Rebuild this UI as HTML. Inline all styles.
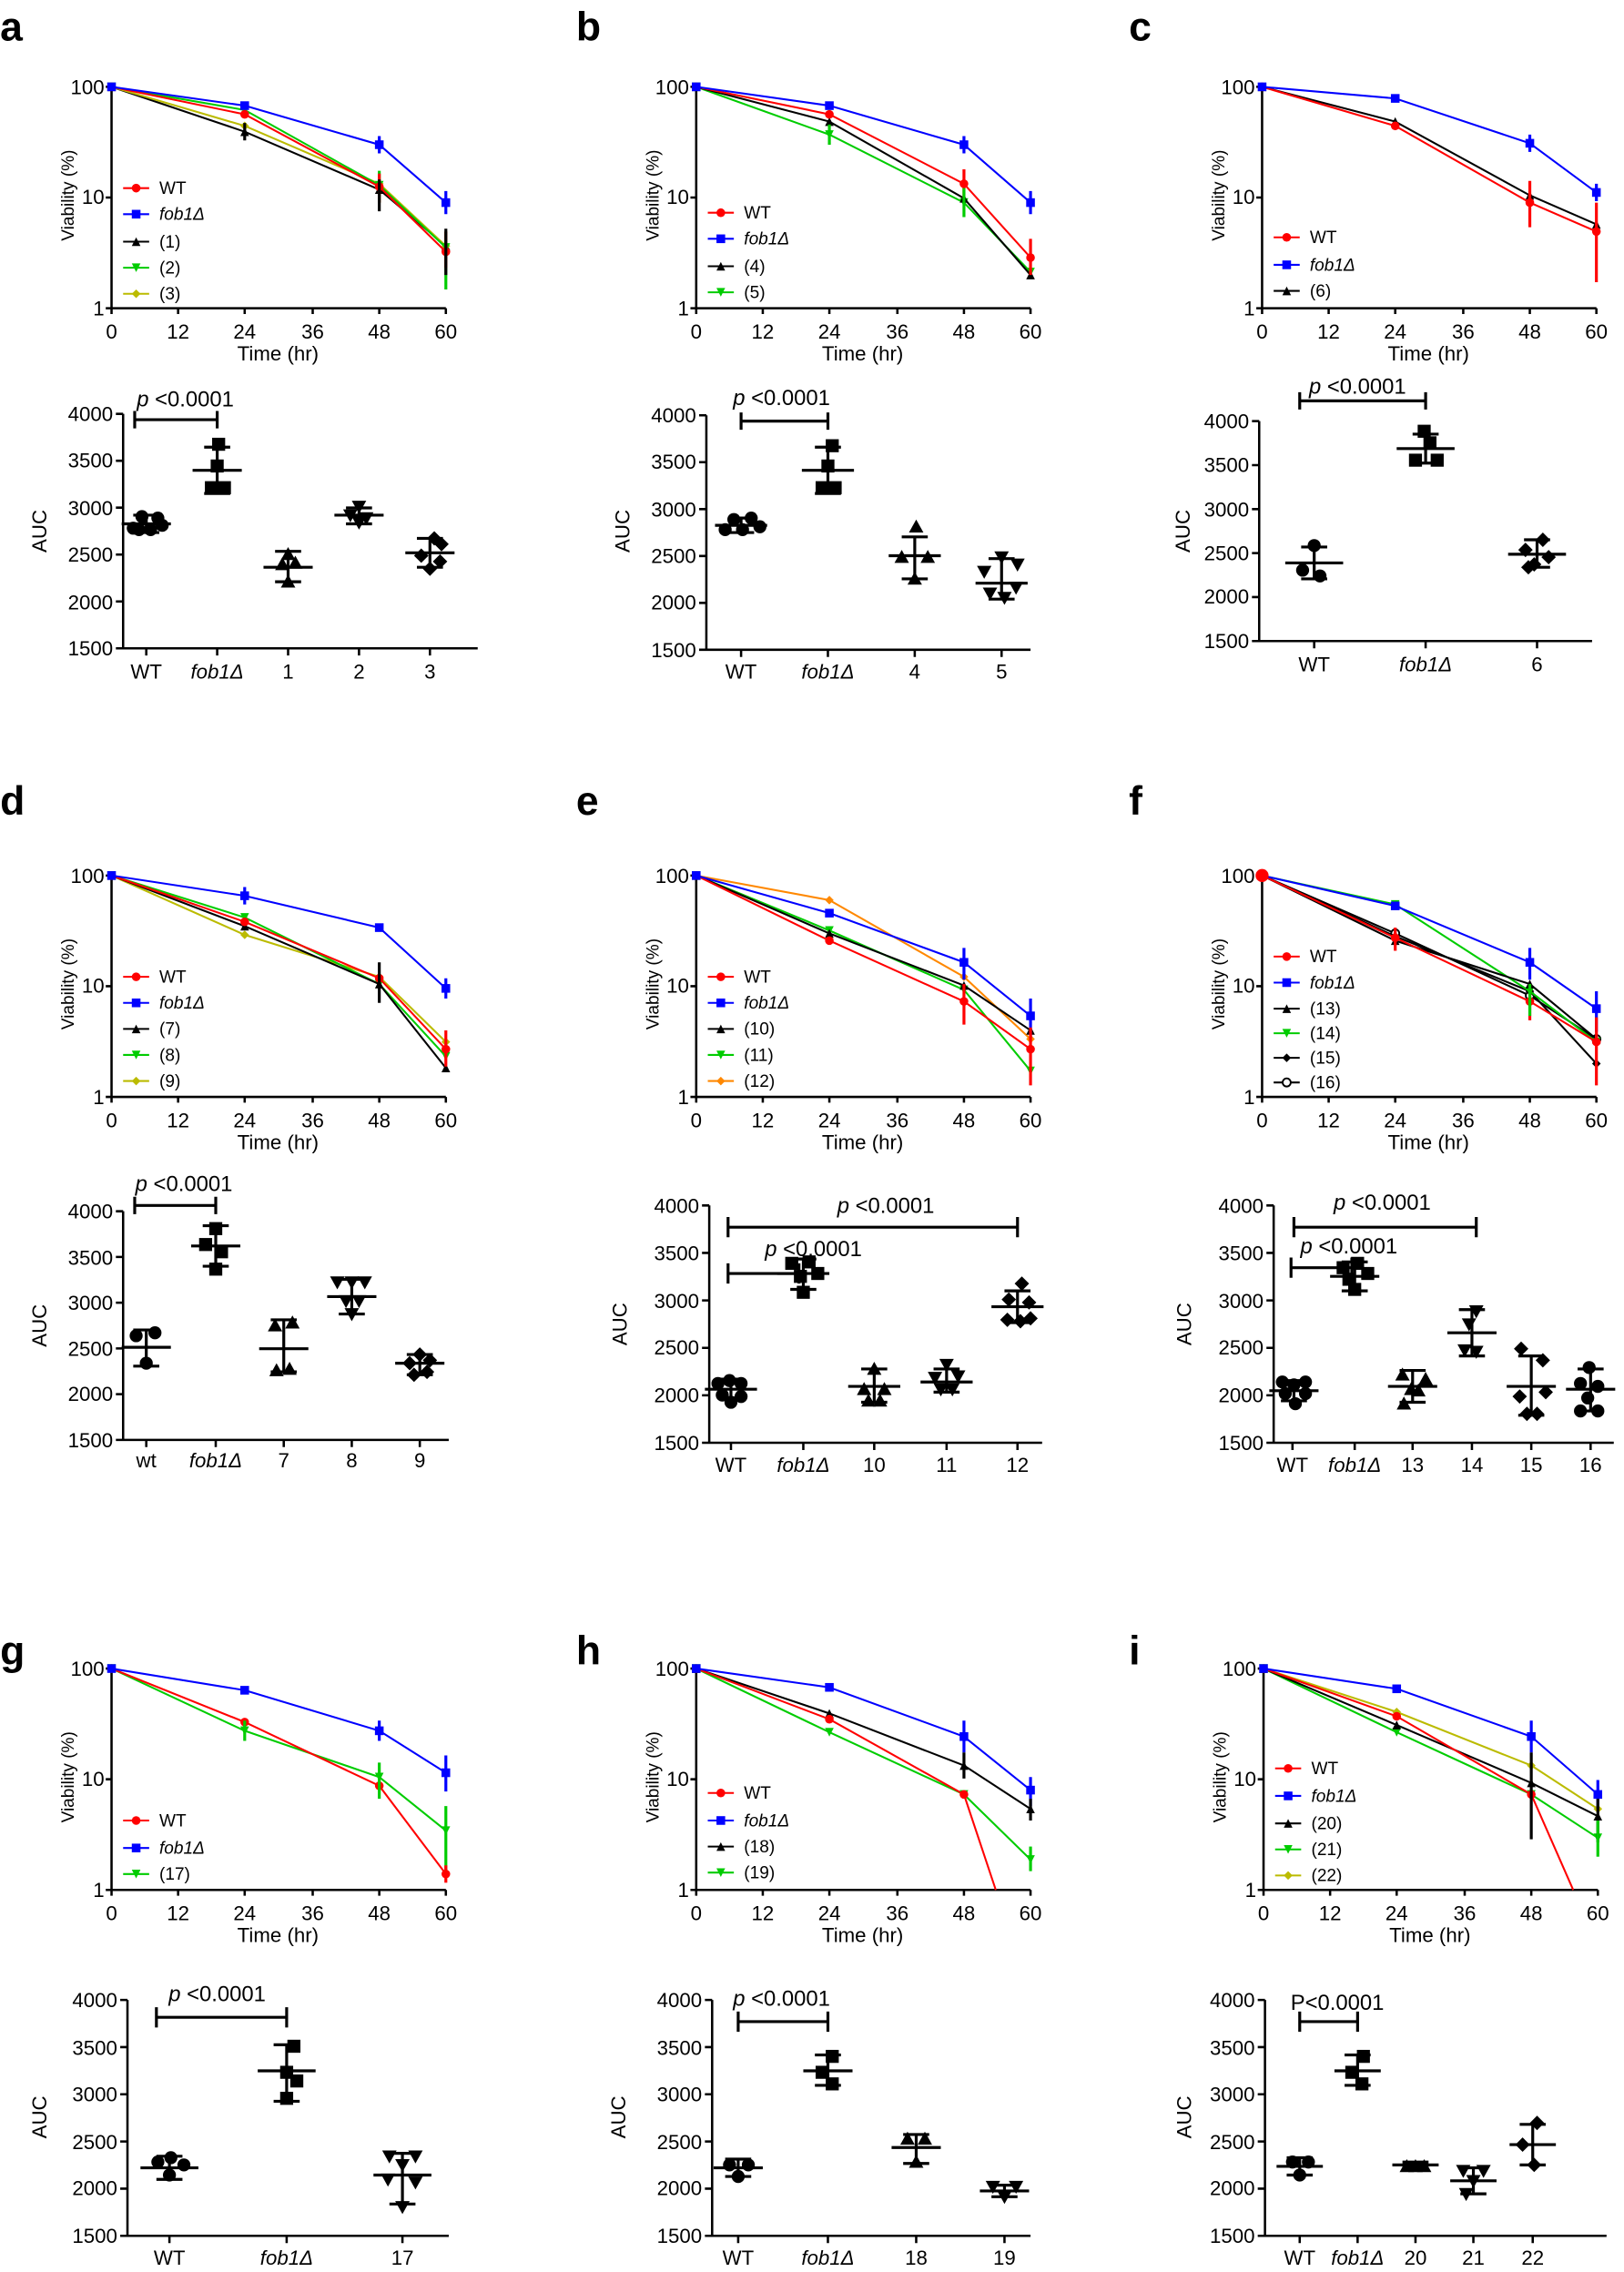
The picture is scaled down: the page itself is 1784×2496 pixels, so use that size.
<!DOCTYPE html>
<html><head><meta charset="utf-8"><style>
html,body{margin:0;padding:0;background:#fff}
svg{display:block}
text{font-family:"Liberation Sans",sans-serif;fill:#000}
.t{font-size:14px}
.tl{font-size:12px}
.pv{font-size:15px}
.pl{font-size:28px;font-weight:bold}
.ax{stroke:#000;stroke-width:1.6;fill:none}
.ln{fill:none;stroke-width:1.3}
.sd{stroke:#000;stroke-width:2;fill:none}
.i{font-style:italic}
</style></head><body>
<svg width="1784" height="2496" viewBox="0 0 1122 1570" xmlns="http://www.w3.org/2000/svg">
<defs>
<marker id="mr" markerWidth="8" markerHeight="8" refX="4" refY="4" markerUnits="userSpaceOnUse"><circle cx="4" cy="4" r="3" fill="#f00"/></marker>
<marker id="mb" markerWidth="8" markerHeight="8" refX="4" refY="4" markerUnits="userSpaceOnUse"><rect x="1" y="1" width="6" height="6" fill="#00f"/></marker>
<marker id="mk" markerWidth="8" markerHeight="8" refX="4" refY="4" markerUnits="userSpaceOnUse"><path d="M4 1L7 7H1Z" fill="#000"/></marker>
<marker id="mg" markerWidth="8" markerHeight="8" refX="4" refY="4" markerUnits="userSpaceOnUse"><path d="M1 1H7L4 7Z" fill="#0c0"/></marker>
<marker id="my" markerWidth="8" markerHeight="8" refX="4" refY="4" markerUnits="userSpaceOnUse"><path d="M4 1L7 4L4 7L1 4Z" fill="#bb0"/></marker>
<marker id="mo" markerWidth="8" markerHeight="8" refX="4" refY="4" markerUnits="userSpaceOnUse"><path d="M4 1L7 4L4 7L1 4Z" fill="#f80"/></marker>
<marker id="md" markerWidth="8" markerHeight="8" refX="4" refY="4" markerUnits="userSpaceOnUse"><path d="M4 1L7 4L4 7L1 4Z" fill="#000"/></marker>
<marker id="mc" markerWidth="8" markerHeight="8" refX="4" refY="4" markerUnits="userSpaceOnUse"><circle cx="4" cy="4" r="2.8" fill="#fff" stroke="#000" stroke-width="1.2"/></marker>
<g id="c"><circle r="4.5"/></g>
<g id="s"><rect x="-4.5" y="-4.5" width="9" height="9"/></g>
<g id="u"><path d="M0 -5L5 4H-5Z"/></g>
<g id="v"><path d="M-5 -4H5L0 5Z"/></g>
<g id="d"><path d="M0 -5L5 0L0 5L-5 0Z"/></g>
<g id="L">
<path class="ax" d="M77 60V213H308M73 60H77M73 136.5H77M73 213H77M77 213v4M123 213v4M169 213v4M216 213v4M262 213v4M308 213v4"/>
<text class="t" x="72" y="65" text-anchor="end">100</text>
<text class="t" x="72" y="141" text-anchor="end">10</text>
<text class="t" x="72" y="218" text-anchor="end">1</text>
<text class="t" x="77" y="234" text-anchor="middle">0</text>
<text class="t" x="123" y="234" text-anchor="middle">12</text>
<text class="t" x="169" y="234" text-anchor="middle">24</text>
<text class="t" x="216" y="234" text-anchor="middle">36</text>
<text class="t" x="262" y="234" text-anchor="middle">48</text>
<text class="t" x="308" y="234" text-anchor="middle">60</text>
<text class="t" x="192" y="249" text-anchor="middle">Time (hr)</text>
<text class="tl" transform="translate(51,135) rotate(-90)" text-anchor="middle">Viability (%)</text>
</g>
</defs>

<text class="pl" x="0" y="28">a</text><text class="pl" x="398" y="28">b</text><text class="pl" x="780" y="28">c</text>
<text class="pl" x="0" y="563">d</text><text class="pl" x="398" y="563">e</text><text class="pl" x="780" y="563">f</text>
<text class="pl" x="0" y="1150">g</text><text class="pl" x="398" y="1150">h</text><text class="pl" x="780" y="1150">i</text>

<!-- a -->
<g>
<use href="#L"/>
<polyline class="ln" stroke="#000" marker-start="url(#mk)" marker-mid="url(#mk)" marker-end="url(#mk)" points="77,60 169,91 262,131 308,170"/>
<polyline class="ln" stroke="#bb0" marker-start="url(#my)" marker-mid="url(#my)" marker-end="url(#my)" points="77,60 169,87 262,127 308,170"/>
<polyline class="ln" stroke="#0c0" marker-start="url(#mg)" marker-mid="url(#mg)" marker-end="url(#mg)" points="77,60 169,76 262,128 308,171"/>
<polyline class="ln" stroke="#f00" marker-start="url(#mr)" marker-mid="url(#mr)" marker-end="url(#mr)" points="77,60 169,79 262,129 308,174"/>
<polyline class="ln" stroke="#00f" marker-start="url(#mb)" marker-mid="url(#mb)" marker-end="url(#mb)" points="77,60 169,73 262,100 308,140"/>
<path stroke="#00f" stroke-width="2" d="M262 94V106M308 132V148"/>
<path stroke="#0c0" stroke-width="2" d="M262 118V140M308 160V200"/>
<path stroke="#f00" stroke-width="2" d="M262 120V140M308 160V185"/>
<path stroke="#000" stroke-width="2" d="M169 85V97M262 124V146M308 158V190"/>
<polyline class="ln" stroke="#f00" marker-mid="url(#mr)" points="85,130 94,130 103,130"/><text class="tl" x="110" y="134">WT</text>
<polyline class="ln" stroke="#00f" marker-mid="url(#mb)" points="85,148 94,148 103,148"/><text class="tl i" x="110" y="152">fob1Δ</text>
<polyline class="ln" stroke="#000" marker-mid="url(#mk)" points="85,167 94,167 103,167"/><text class="tl" x="110" y="171">(1)</text>
<polyline class="ln" stroke="#0c0" marker-mid="url(#mg)" points="85,185 94,185 103,185"/><text class="tl" x="110" y="189">(2)</text>
<polyline class="ln" stroke="#bb0" marker-mid="url(#my)" points="85,203 94,203 103,203"/><text class="tl" x="110" y="207">(3)</text>
</g>

<!-- b -->
<g transform="translate(404,0)">
<use href="#L"/>
<polyline class="ln" stroke="#0c0" marker-start="url(#mg)" marker-mid="url(#mg)" marker-end="url(#mg)" points="77,60 169,93 262,140 308,188"/>
<polyline class="ln" stroke="#000" marker-start="url(#mk)" marker-mid="url(#mk)" marker-end="url(#mk)" points="77,60 169,84 262,137 308,190"/>
<polyline class="ln" stroke="#f00" marker-start="url(#mr)" marker-mid="url(#mr)" marker-end="url(#mr)" points="77,60 169,79 262,127 308,178"/>
<polyline class="ln" stroke="#00f" marker-start="url(#mb)" marker-mid="url(#mb)" marker-end="url(#mb)" points="77,60 169,73 262,100 308,140"/>
<path stroke="#00f" stroke-width="2" d="M262 94V106M308 132V148"/>
<path stroke="#f00" stroke-width="2" d="M262 117V137M308 165V190"/>
<path stroke="#0c0" stroke-width="2" d="M262 130V150M169 86V100"/>
<polyline class="ln" stroke="#f00" marker-mid="url(#mr)" points="85,147 94,147 103,147"/><text class="tl" x="110" y="151">WT</text>
<polyline class="ln" stroke="#00f" marker-mid="url(#mb)" points="85,165 94,165 103,165"/><text class="tl i" x="110" y="169">fob1Δ</text>
<polyline class="ln" stroke="#000" marker-mid="url(#mk)" points="85,184 94,184 103,184"/><text class="tl" x="110" y="188">(4)</text>
<polyline class="ln" stroke="#0c0" marker-mid="url(#mg)" points="85,202 94,202 103,202"/><text class="tl" x="110" y="206">(5)</text>
</g>

<!-- c -->
<g transform="translate(795,0)">
<use href="#L"/>
<polyline class="ln" stroke="#000" marker-start="url(#mk)" marker-mid="url(#mk)" marker-end="url(#mk)" points="77,60 169,84 262,135 308,155"/>
<polyline class="ln" stroke="#f00" marker-start="url(#mr)" marker-mid="url(#mr)" marker-end="url(#mr)" points="77,60 169,87 262,140 308,160"/>
<polyline class="ln" stroke="#00f" marker-start="url(#mb)" marker-mid="url(#mb)" marker-end="url(#mb)" points="77,60 169,68 262,99 308,133"/>
<path stroke="#00f" stroke-width="2" d="M262 93V105M308 127V139"/>
<path stroke="#f00" stroke-width="2" d="M262 125V157M308 140V195"/>
<polyline class="ln" stroke="#f00" marker-mid="url(#mr)" points="85,164 94,164 103,164"/><text class="tl" x="110" y="168">WT</text>
<polyline class="ln" stroke="#00f" marker-mid="url(#mb)" points="85,183 94,183 103,183"/><text class="tl i" x="110" y="187">fob1Δ</text>
<polyline class="ln" stroke="#000" marker-mid="url(#mk)" points="85,201 94,201 103,201"/><text class="tl" x="110" y="205">(6)</text>
</g>

<!-- d -->
<g transform="translate(0,545)">
<use href="#L"/>
<polyline class="ln" stroke="#bb0" marker-start="url(#my)" marker-mid="url(#my)" marker-end="url(#my)" points="77,60 169,101 262,130 308,175"/>
<polyline class="ln" stroke="#0c0" marker-start="url(#mg)" marker-mid="url(#mg)" marker-end="url(#mg)" points="77,60 169,89 262,135 308,185"/>
<polyline class="ln" stroke="#000" marker-start="url(#mk)" marker-mid="url(#mk)" marker-end="url(#mk)" points="77,60 169,95 262,135 308,193"/>
<polyline class="ln" stroke="#f00" marker-start="url(#mr)" marker-mid="url(#mr)" marker-end="url(#mr)" points="77,60 169,92 262,131 308,180"/>
<polyline class="ln" stroke="#00f" marker-start="url(#mb)" marker-mid="url(#mb)" marker-end="url(#mb)" points="77,60 169,74 262,96 308,138"/>
<path stroke="#00f" stroke-width="2" d="M169 68V80M308 131V145"/>
<path stroke="#000" stroke-width="2" d="M262 120V148"/>
<path stroke="#f00" stroke-width="2" d="M308 167V192"/>
<polyline class="ln" stroke="#f00" marker-mid="url(#mr)" points="85,130 94,130 103,130"/><text class="tl" x="110" y="134">WT</text>
<polyline class="ln" stroke="#00f" marker-mid="url(#mb)" points="85,148 94,148 103,148"/><text class="tl i" x="110" y="152">fob1Δ</text>
<polyline class="ln" stroke="#000" marker-mid="url(#mk)" points="85,166 94,166 103,166"/><text class="tl" x="110" y="170">(7)</text>
<polyline class="ln" stroke="#0c0" marker-mid="url(#mg)" points="85,184 94,184 103,184"/><text class="tl" x="110" y="188">(8)</text>
<polyline class="ln" stroke="#bb0" marker-mid="url(#my)" points="85,202 94,202 103,202"/><text class="tl" x="110" y="206">(9)</text>
</g>

<!-- e -->
<g transform="translate(404,545)">
<use href="#L"/>
<polyline class="ln" stroke="#f80" marker-start="url(#mo)" marker-mid="url(#mo)" marker-end="url(#mo)" points="77,60 169,77 262,130 308,173"/>
<polyline class="ln" stroke="#0c0" marker-start="url(#mg)" marker-mid="url(#mg)" marker-end="url(#mg)" points="77,60 169,98 262,139 308,195"/>
<polyline class="ln" stroke="#000" marker-start="url(#mk)" marker-mid="url(#mk)" marker-end="url(#mk)" points="77,60 169,100 262,136 308,167"/>
<polyline class="ln" stroke="#f00" marker-start="url(#mr)" marker-mid="url(#mr)" marker-end="url(#mr)" points="77,60 169,105 262,147 308,180"/>
<polyline class="ln" stroke="#00f" marker-start="url(#mb)" marker-mid="url(#mb)" marker-end="url(#mb)" points="77,60 169,86 262,120 308,157"/>
<path stroke="#00f" stroke-width="2" d="M262 110V132M308 145V172"/>
<path stroke="#f00" stroke-width="2" d="M262 135V163M308 165V205"/>
<polyline class="ln" stroke="#f00" marker-mid="url(#mr)" points="85,130 94,130 103,130"/><text class="tl" x="110" y="134">WT</text>
<polyline class="ln" stroke="#00f" marker-mid="url(#mb)" points="85,148 94,148 103,148"/><text class="tl i" x="110" y="152">fob1Δ</text>
<polyline class="ln" stroke="#000" marker-mid="url(#mk)" points="85,166 94,166 103,166"/><text class="tl" x="110" y="170">(10)</text>
<polyline class="ln" stroke="#0c0" marker-mid="url(#mg)" points="85,184 94,184 103,184"/><text class="tl" x="110" y="188">(11)</text>
<polyline class="ln" stroke="#f80" marker-mid="url(#mo)" points="85,202 94,202 103,202"/><text class="tl" x="110" y="206">(12)</text>
</g>

<!-- f -->
<g transform="translate(795,545)">
<use href="#L"/>
<polyline class="ln" stroke="#000" marker-start="url(#mc)" marker-mid="url(#mc)" marker-end="url(#mc)" points="77,60 169,100 262,143 308,173"/>
<polyline class="ln" stroke="#000" marker-start="url(#md)" marker-mid="url(#md)" marker-end="url(#md)" points="77,60 169,102 262,140 308,190"/>
<polyline class="ln" stroke="#0c0" marker-start="url(#mg)" marker-mid="url(#mg)" marker-end="url(#mg)" points="77,60 169,80 262,140 308,175"/>
<polyline class="ln" stroke="#000" marker-start="url(#mk)" marker-mid="url(#mk)" marker-end="url(#mk)" points="77,60 169,105 262,135 308,173"/>
<polyline class="ln" stroke="#f00" marker-start="url(#mr)" marker-mid="url(#mr)" marker-end="url(#mr)" points="77,60 169,103 262,147 308,175"/>
<polyline class="ln" stroke="#00f" marker-start="url(#mb)" marker-mid="url(#mb)" marker-end="url(#mb)" points="77,60 169,81 262,120 308,152"/>
<circle cx="77" cy="60" r="4.5" fill="#f00"/>
<path stroke="#00f" stroke-width="2" d="M262 110V132M308 140V168"/>
<path stroke="#f00" stroke-width="2" d="M262 135V160M308 158V205M169 96V112"/>
<path stroke="#0c0" stroke-width="2" d="M262 135V157"/>
<polyline class="ln" stroke="#f00" marker-mid="url(#mr)" points="85,116 94,116 103,116"/><text class="tl" x="110" y="120">WT</text>
<polyline class="ln" stroke="#00f" marker-mid="url(#mb)" points="85,134 94,134 103,134"/><text class="tl i" x="110" y="138">fob1Δ</text>
<polyline class="ln" stroke="#000" marker-mid="url(#mk)" points="85,152 94,152 103,152"/><text class="tl" x="110" y="156">(13)</text>
<polyline class="ln" stroke="#0c0" marker-mid="url(#mg)" points="85,169 94,169 103,169"/><text class="tl" x="110" y="173">(14)</text>
<polyline class="ln" stroke="#000" marker-mid="url(#md)" points="85,186 94,186 103,186"/><text class="tl" x="110" y="190">(15)</text>
<polyline class="ln" stroke="#000" marker-mid="url(#mc)" points="85,203 94,203 103,203"/><text class="tl" x="110" y="207">(16)</text>
</g>

<!-- g -->
<g transform="translate(0,1093)">
<use href="#L"/>
<polyline class="ln" stroke="#0c0" marker-start="url(#mg)" marker-mid="url(#mg)" marker-end="url(#mg)" points="77,60 169,103 262,135 308,172"/>
<polyline class="ln" stroke="#f00" marker-start="url(#mr)" marker-mid="url(#mr)" marker-end="url(#mr)" points="77,60 169,97 262,141 308,202"/>
<polyline class="ln" stroke="#00f" marker-start="url(#mb)" marker-mid="url(#mb)" marker-end="url(#mb)" points="77,60 169,75 262,103 308,132"/>
<path stroke="#00f" stroke-width="2" d="M262 96V110M308 120V145"/>
<path stroke="#0c0" stroke-width="2" d="M262 125V150M308 155V200M169 96V110"/>
<path stroke="#f00" stroke-width="2" d="M308 196V208"/>
<polyline class="ln" stroke="#f00" marker-mid="url(#mr)" points="85,165 94,165 103,165"/><text class="tl" x="110" y="169">WT</text>
<polyline class="ln" stroke="#00f" marker-mid="url(#mb)" points="85,184 94,184 103,184"/><text class="tl i" x="110" y="188">fob1Δ</text>
<polyline class="ln" stroke="#0c0" marker-mid="url(#mg)" points="85,202 94,202 103,202"/><text class="tl" x="110" y="206">(17)</text>
</g>

<!-- h -->
<g transform="translate(404,1093)">
<use href="#L"/>
<polyline class="ln" stroke="#0c0" marker-start="url(#mg)" marker-mid="url(#mg)" marker-end="url(#mg)" points="77,60 169,104 262,147 308,192"/>
<polyline class="ln" stroke="#000" marker-start="url(#mk)" marker-mid="url(#mk)" marker-end="url(#mk)" points="77,60 169,91 262,127 308,157"/>
<polyline class="ln" stroke="#f00" marker-start="url(#mr)" marker-mid="url(#mr)" points="77,60 169,95 262,147 284,213"/>
<polyline class="ln" stroke="#00f" marker-start="url(#mb)" marker-mid="url(#mb)" marker-end="url(#mb)" points="77,60 169,73 262,107 308,144"/>
<path stroke="#00f" stroke-width="2" d="M262 96V118M308 135V155"/>
<path stroke="#000" stroke-width="2" d="M262 118V136M308 150V165"/>
<path stroke="#0c0" stroke-width="2" d="M308 183V200"/>
<polyline class="ln" stroke="#f00" marker-mid="url(#mr)" points="85,146 94,146 103,146"/><text class="tl" x="110" y="150">WT</text>
<polyline class="ln" stroke="#00f" marker-mid="url(#mb)" points="85,165 94,165 103,165"/><text class="tl i" x="110" y="169">fob1Δ</text>
<polyline class="ln" stroke="#000" marker-mid="url(#mk)" points="85,183 94,183 103,183"/><text class="tl" x="110" y="187">(18)</text>
<polyline class="ln" stroke="#0c0" marker-mid="url(#mg)" points="85,201 94,201 103,201"/><text class="tl" x="110" y="205">(19)</text>
</g>

<!-- i -->
<g transform="translate(796,1093)">
<use href="#L"/>
<polyline class="ln" stroke="#bb0" marker-start="url(#my)" marker-mid="url(#my)" marker-end="url(#my)" points="77,60 169,90 262,127 308,157"/>
<polyline class="ln" stroke="#0c0" marker-start="url(#mg)" marker-mid="url(#mg)" marker-end="url(#mg)" points="77,60 169,104 262,147 308,177"/>
<polyline class="ln" stroke="#000" marker-start="url(#mk)" marker-mid="url(#mk)" marker-end="url(#mk)" points="77,60 169,99 262,139 308,162"/>
<polyline class="ln" stroke="#f00" marker-start="url(#mr)" marker-mid="url(#mr)" points="77,60 169,93 262,147 291,213"/>
<polyline class="ln" stroke="#00f" marker-start="url(#mb)" marker-mid="url(#mb)" marker-end="url(#mb)" points="77,60 169,74 262,107 308,147"/>
<path stroke="#00f" stroke-width="2" d="M262 96V118M308 137V157"/>
<path stroke="#000" stroke-width="2" d="M262 118V178M308 150V180"/>
<path stroke="#0c0" stroke-width="2" d="M308 165V190"/>
<polyline class="ln" stroke="#f00" marker-mid="url(#mr)" points="85,129 94,129 103,129"/><text class="tl" x="110" y="133">WT</text>
<polyline class="ln" stroke="#00f" marker-mid="url(#mb)" points="85,148 94,148 103,148"/><text class="tl i" x="110" y="152">fob1Δ</text>
<polyline class="ln" stroke="#000" marker-mid="url(#mk)" points="85,167 94,167 103,167"/><text class="tl" x="110" y="171">(20)</text>
<polyline class="ln" stroke="#0c0" marker-mid="url(#mg)" points="85,185 94,185 103,185"/><text class="tl" x="110" y="189">(21)</text>
<polyline class="ln" stroke="#bb0" marker-mid="url(#my)" points="85,203 94,203 103,203"/><text class="tl" x="110" y="207">(22)</text>
</g>

<!-- ===== AUC a ===== -->
<g>
<path class="ax" d="M85 286V448H330M80 286H85M80 318.4H85M80 350.8H85M80 383.2H85M80 415.6H85M80 448H85M101 448v5M150 448v5M199 448v5M248 448v5M297 448v5"/>
<text class="t" x="78" y="291" text-anchor="end">4000</text><text class="t" x="78" y="323" text-anchor="end">3500</text><text class="t" x="78" y="356" text-anchor="end">3000</text><text class="t" x="78" y="388" text-anchor="end">2500</text><text class="t" x="78" y="421" text-anchor="end">2000</text><text class="t" x="78" y="453" text-anchor="end">1500</text>
<text class="t" transform="translate(32,367) rotate(-90)" text-anchor="middle">AUC</text>
<text class="t" x="101" y="469" text-anchor="middle">WT</text><text class="t i" x="150" y="469" text-anchor="middle">fob1Δ</text><text class="t" x="199" y="469" text-anchor="middle">1</text><text class="t" x="248" y="469" text-anchor="middle">2</text><text class="t" x="297" y="469" text-anchor="middle">3</text>
<path class="sd" d="M93 284V296M93 290H150M150 284V296"/>
<text class="pv" x="128" y="281" text-anchor="middle"><tspan class="i">p</tspan> &lt;0.0001</text>
<path class="sd" d="M84 362H118M101 356V368M92 356H110M92 368H110 M133 325H167M150 309V341M141 309H159M141 341H159 M182 392H216M199 381V402M190 381H208M190 402H208 M231 356H265M248 351V362M239 351H257M239 362H257 M280 382H314M297 372V392M288 372H306M288 392H306"/>
<use href="#c" x="92" y="365"/><use href="#c" x="98" y="357"/><use href="#c" x="104" y="366"/><use href="#c" x="109" y="358"/><use href="#c" x="112" y="363"/><use href="#c" x="96" y="366"/>
<use href="#s" x="151" y="307"/><use href="#s" x="150" y="322"/><use href="#s" x="146" y="337"/><use href="#s" x="155" y="337"/>
<use href="#u" x="199" y="383"/><use href="#u" x="204" y="389"/><use href="#u" x="199" y="402"/><use href="#u" x="195" y="390"/>
<use href="#v" x="248" y="350"/><use href="#v" x="242" y="356"/><use href="#v" x="253" y="358"/><use href="#v" x="248" y="361"/>
<use href="#d" x="300" y="372"/><use href="#d" x="291" y="384"/><use href="#d" x="305" y="376"/><use href="#d" x="297" y="393"/><use href="#d" x="304" y="388"/>
</g>

<!-- AUC b -->
<g>
<path class="ax" d="M488 287V449H712M483 287H488M483 319.4H488M483 351.8H488M483 384.2H488M483 416.6H488M483 449H488M512 449v5M572 449v5M632 449v5M692 449v5"/>
<text class="t" x="481" y="292" text-anchor="end">4000</text><text class="t" x="481" y="324" text-anchor="end">3500</text><text class="t" x="481" y="357" text-anchor="end">3000</text><text class="t" x="481" y="389" text-anchor="end">2500</text><text class="t" x="481" y="421" text-anchor="end">2000</text><text class="t" x="481" y="454" text-anchor="end">1500</text>
<text class="t" transform="translate(435,367) rotate(-90)" text-anchor="middle">AUC</text>
<text class="t" x="512" y="469" text-anchor="middle">WT</text><text class="t i" x="572" y="469" text-anchor="middle">fob1Δ</text><text class="t" x="632" y="469" text-anchor="middle">4</text><text class="t" x="692" y="469" text-anchor="middle">5</text>
<path class="sd" d="M512 285V297M512 291H572M572 285V297"/>
<text class="pv" x="540" y="280" text-anchor="middle"><tspan class="i">p</tspan> &lt;0.0001</text>
<path class="sd" d="M494 363H530M512 358V368M503 358H521M503 368H521 M554 325H590M572 309V341M563 309H581M563 341H581 M614 384H650M632 371V400M623 371H641M623 400H641 M674 403H710M692 386V414M683 386H701M683 414H701"/>
<use href="#c" x="501" y="366"/><use href="#c" x="507" y="359"/><use href="#c" x="513" y="366"/><use href="#c" x="519" y="358"/><use href="#c" x="525" y="364"/>
<use href="#s" x="575" y="308"/><use href="#s" x="572" y="322"/><use href="#s" x="568" y="337"/><use href="#s" x="577" y="337"/>
<use href="#u" x="633" y="364"/><use href="#u" x="623" y="385"/><use href="#u" x="641" y="385"/><use href="#u" x="632" y="400"/>
<use href="#v" x="680" y="395"/><use href="#v" x="692" y="385"/><use href="#v" x="703" y="390"/><use href="#v" x="684" y="410"/><use href="#v" x="694" y="413"/><use href="#v" x="702" y="406"/>
</g>

<!-- AUC c -->
<g>
<path class="ax" d="M870 291V443H1100M865 291H870M865 321.4H870M865 351.8H870M865 382.2H870M865 412.6H870M865 443H870M908 443v5M985 443v5M1062 443v5"/>
<text class="t" x="863" y="296" text-anchor="end">4000</text><text class="t" x="863" y="326" text-anchor="end">3500</text><text class="t" x="863" y="357" text-anchor="end">3000</text><text class="t" x="863" y="387" text-anchor="end">2500</text><text class="t" x="863" y="417" text-anchor="end">2000</text><text class="t" x="863" y="448" text-anchor="end">1500</text>
<text class="t" transform="translate(822,367) rotate(-90)" text-anchor="middle">AUC</text>
<text class="t" x="908" y="464" text-anchor="middle">WT</text><text class="t i" x="985" y="464" text-anchor="middle">fob1Δ</text><text class="t" x="1062" y="464" text-anchor="middle">6</text>
<path class="sd" d="M898 271V283M898 277H985M985 271V283"/>
<text class="pv" x="938" y="272" text-anchor="middle"><tspan class="i">p</tspan> &lt;0.0001</text>
<path class="sd" d="M888 389H928M908 378V400M899 378H917M899 400H917 M965 310H1005M985 300V320M976 300H994M976 320H994 M1042 383H1082M1062 373V392M1053 373H1071M1053 392H1071"/>
<use href="#c" x="908" y="377"/><use href="#c" x="900" y="394"/><use href="#c" x="912" y="398"/>
<use href="#s" x="984" y="298"/><use href="#s" x="978" y="318"/><use href="#s" x="993" y="318"/><use href="#s" x="988" y="306"/>
<use href="#d" x="1054" y="380"/><use href="#d" x="1066" y="373"/><use href="#d" x="1060" y="390"/><use href="#d" x="1070" y="385"/><use href="#d" x="1056" y="392"/>
</g>

<!-- AUC d -->
<g>
<path class="ax" d="M85 837V995H310M80 837H85M80 868.6H85M80 900.2H85M80 931.8H85M80 963.4H85M80 995H85M101 995v5M149 995v5M196 995v5M243 995v5M290 995v5"/>
<text class="t" x="78" y="842" text-anchor="end">4000</text><text class="t" x="78" y="874" text-anchor="end">3500</text><text class="t" x="78" y="905" text-anchor="end">3000</text><text class="t" x="78" y="937" text-anchor="end">2500</text><text class="t" x="78" y="968" text-anchor="end">2000</text><text class="t" x="78" y="1000" text-anchor="end">1500</text>
<text class="t" transform="translate(32,916) rotate(-90)" text-anchor="middle">AUC</text>
<text class="t" x="101" y="1014" text-anchor="middle">wt</text><text class="t i" x="149" y="1014" text-anchor="middle">fob1Δ</text><text class="t" x="196" y="1014" text-anchor="middle">7</text><text class="t" x="243" y="1014" text-anchor="middle">8</text><text class="t" x="290" y="1014" text-anchor="middle">9</text>
<path class="sd" d="M93 827V839M93 833H149M149 827V839"/>
<text class="pv" x="127" y="823" text-anchor="middle"><tspan class="i">p</tspan> &lt;0.0001</text>
<path class="sd" d="M84 931H118M101 919V944M92 919H110M92 944H110 M132 861H166M149 847V875M140 847H158M140 875H158 M179 932H213M196 912V948M187 912H205M187 948H205 M226 896H260M243 884V908M234 884H252M234 908H252 M273 942H307M290 936V950M281 936H299M281 950H299"/>
<use href="#c" x="94" y="923"/><use href="#c" x="107" y="921"/><use href="#c" x="101" y="942"/>
<use href="#s" x="149" y="849"/><use href="#s" x="142" y="860"/><use href="#s" x="153" y="865"/><use href="#s" x="149" y="877"/>
<use href="#u" x="190" y="916"/><use href="#u" x="202" y="914"/><use href="#u" x="191" y="947"/><use href="#u" x="200" y="946"/>
<use href="#v" x="233" y="886"/><use href="#v" x="243" y="886"/><use href="#v" x="252" y="886"/><use href="#v" x="239" y="899"/><use href="#v" x="248" y="899"/><use href="#v" x="243" y="908"/>
<use href="#d" x="283" y="942"/><use href="#d" x="290" y="936"/><use href="#d" x="297" y="940"/><use href="#d" x="286" y="950"/><use href="#d" x="295" y="948"/>
</g>

<!-- AUC e -->
<g>
<path class="ax" d="M490 833V997H720M485 833H490M485 865.8H490M485 898.6H490M485 931.4H490M485 964.2H490M485 997H490M505 997v5M555 997v5M604 997v5M654 997v5M703 997v5"/>
<text class="t" x="483" y="838" text-anchor="end">4000</text><text class="t" x="483" y="871" text-anchor="end">3500</text><text class="t" x="483" y="904" text-anchor="end">3000</text><text class="t" x="483" y="936" text-anchor="end">2500</text><text class="t" x="483" y="969" text-anchor="end">2000</text><text class="t" x="483" y="1002" text-anchor="end">1500</text>
<text class="t" transform="translate(433,915) rotate(-90)" text-anchor="middle">AUC</text>
<text class="t" x="505" y="1017" text-anchor="middle">WT</text><text class="t i" x="555" y="1017" text-anchor="middle">fob1Δ</text><text class="t" x="604" y="1017" text-anchor="middle">10</text><text class="t" x="654" y="1017" text-anchor="middle">11</text><text class="t" x="703" y="1017" text-anchor="middle">12</text>
<path class="sd" d="M503 873V887M503 880H552M552 873V887 M503 841V855M503 848H703M703 841V855"/>
<text class="pv" x="562" y="868" text-anchor="middle"><tspan class="i">p</tspan> &lt;0.0001</text>
<text class="pv" x="612" y="838" text-anchor="middle"><tspan class="i">p</tspan> &lt;0.0001</text>
<path class="sd" d="M487 960H523M505 953V966M496 953H514M496 966H514 M537 880H573M555 870V891M546 870H564M546 891H564 M586 958H622M604 946V969M595 946H613M595 969H613 M636 955H672M654 946V962M645 946H663M645 962H663 M685 903H721M703 892V914M694 892H712M694 914H712"/>
<use href="#c" x="496" y="956"/><use href="#c" x="504" y="954"/><use href="#c" x="512" y="956"/><use href="#c" x="499" y="964"/><use href="#c" x="512" y="965"/><use href="#c" x="505" y="969"/>
<use href="#s" x="547" y="873"/><use href="#s" x="559" y="872"/><use href="#s" x="565" y="880"/><use href="#s" x="553" y="882"/><use href="#s" x="555" y="893"/>
<use href="#u" x="604" y="946"/><use href="#u" x="597" y="960"/><use href="#u" x="611" y="960"/><use href="#u" x="600" y="968"/><use href="#u" x="608" y="968"/>
<use href="#v" x="654" y="943"/><use href="#v" x="646" y="952"/><use href="#v" x="662" y="951"/><use href="#v" x="650" y="960"/><use href="#v" x="658" y="960"/>
<use href="#d" x="706" y="887"/><use href="#d" x="697" y="898"/><use href="#d" x="711" y="900"/><use href="#d" x="696" y="912"/><use href="#d" x="705" y="913"/><use href="#d" x="712" y="911"/>
</g>

<!-- AUC f -->
<g>
<path class="ax" d="M880 833V997H1115M875 833H880M875 865.8H880M875 898.6H880M875 931.4H880M875 964.2H880M875 997H880M893 997v5M936 997v5M976 997v5M1017 997v5M1058 997v5M1099 997v5"/>
<text class="t" x="873" y="838" text-anchor="end">4000</text><text class="t" x="873" y="871" text-anchor="end">3500</text><text class="t" x="873" y="904" text-anchor="end">3000</text><text class="t" x="873" y="936" text-anchor="end">2500</text><text class="t" x="873" y="969" text-anchor="end">2000</text><text class="t" x="873" y="1002" text-anchor="end">1500</text>
<text class="t" transform="translate(823,915) rotate(-90)" text-anchor="middle">AUC</text>
<text class="t" x="893" y="1017" text-anchor="middle">WT</text><text class="t i" x="936" y="1017" text-anchor="middle">fob1Δ</text><text class="t" x="976" y="1017" text-anchor="middle">13</text><text class="t" x="1017" y="1017" text-anchor="middle">14</text><text class="t" x="1058" y="1017" text-anchor="middle">15</text><text class="t" x="1099" y="1017" text-anchor="middle">16</text>
<path class="sd" d="M892 869V883M892 876H934M934 869V883 M894 841V855M894 848H1020M1020 841V855"/>
<text class="pv" x="932" y="866" text-anchor="middle"><tspan class="i">p</tspan> &lt;0.0001</text>
<text class="pv" x="955" y="836" text-anchor="middle"><tspan class="i">p</tspan> &lt;0.0001</text>
<path class="sd" d="M877 961H911M894 954V968M885 954H903M885 968H903 M919 882H953M936 872V892M927 872H945M927 892H945 M959 958H993M976 947V969M967 947H985M967 969H985 M1000 921H1034M1017 905V937M1008 905H1026M1008 937H1026 M1041 958H1075M1058 937V978M1049 937H1067M1049 978H1067 M1082 960H1116M1099 946V975M1090 946H1108M1090 975H1108"/>
<use href="#c" x="886" y="955"/><use href="#c" x="894" y="957"/><use href="#c" x="902" y="955"/><use href="#c" x="888" y="963"/><use href="#c" x="902" y="963"/><use href="#c" x="895" y="970"/>
<use href="#s" x="928" y="876"/><use href="#s" x="938" y="873"/><use href="#s" x="945" y="880"/><use href="#s" x="932" y="884"/><use href="#s" x="936" y="891"/>
<use href="#u" x="969" y="950"/><use href="#u" x="985" y="953"/><use href="#u" x="975" y="960"/><use href="#u" x="980" y="961"/><use href="#u" x="970" y="970"/>
<use href="#v" x="1020" y="906"/><use href="#v" x="1015" y="915"/><use href="#v" x="1012" y="933"/><use href="#v" x="1020" y="934"/>
<use href="#d" x="1051" y="932"/><use href="#d" x="1066" y="940"/><use href="#d" x="1050" y="965"/><use href="#d" x="1068" y="962"/><use href="#d" x="1055" y="977"/><use href="#d" x="1062" y="977"/>
<use href="#c" x="1098" y="945"/><use href="#c" x="1092" y="956"/><use href="#c" x="1104" y="958"/><use href="#c" x="1097" y="966"/><use href="#c" x="1092" y="975"/><use href="#c" x="1104" y="975"/>
</g>

<!-- AUC g -->
<g>
<path class="ax" d="M88 1382V1545H310M83 1382H88M83 1414.6H88M83 1447.2H88M83 1479.8H88M83 1512.4H88M83 1545H88M117 1545v5M198 1545v5M278 1545v5"/>
<text class="t" x="81" y="1387" text-anchor="end">4000</text><text class="t" x="81" y="1420" text-anchor="end">3500</text><text class="t" x="81" y="1452" text-anchor="end">3000</text><text class="t" x="81" y="1485" text-anchor="end">2500</text><text class="t" x="81" y="1517" text-anchor="end">2000</text><text class="t" x="81" y="1550" text-anchor="end">1500</text>
<text class="t" transform="translate(32,1463) rotate(-90)" text-anchor="middle">AUC</text>
<text class="t" x="117" y="1565" text-anchor="middle">WT</text><text class="t i" x="198" y="1565" text-anchor="middle">fob1Δ</text><text class="t" x="278" y="1565" text-anchor="middle">17</text>
<path class="sd" d="M108 1387V1401M108 1394H198M198 1387V1401"/>
<text class="pv" x="150" y="1383" text-anchor="middle"><tspan class="i">p</tspan> &lt;0.0001</text>
<path class="sd" d="M97 1498H137M117 1490V1506M108 1490H126M108 1506H126 M178 1431H218M198 1413V1452M189 1413H207M189 1452H207 M258 1503H298M278 1488V1523M269 1488H287M269 1523H287"/>
<use href="#c" x="109" y="1494"/><use href="#c" x="118" y="1491"/><use href="#c" x="127" y="1496"/><use href="#c" x="117" y="1503"/>
<use href="#s" x="203" y="1414"/><use href="#s" x="198" y="1432"/><use href="#s" x="205" y="1438"/><use href="#s" x="198" y="1450"/>
<use href="#v" x="269" y="1490"/><use href="#v" x="287" y="1490"/><use href="#v" x="278" y="1496"/><use href="#v" x="268" y="1506"/><use href="#v" x="287" y="1508"/><use href="#v" x="278" y="1525"/>
</g>

<!-- AUC h -->
<g>
<path class="ax" d="M492 1382V1545H712M487 1382H492M487 1414.6H492M487 1447.2H492M487 1479.8H492M487 1512.4H492M487 1545H492M510 1545v5M572 1545v5M633 1545v5M694 1545v5"/>
<text class="t" x="485" y="1387" text-anchor="end">4000</text><text class="t" x="485" y="1420" text-anchor="end">3500</text><text class="t" x="485" y="1452" text-anchor="end">3000</text><text class="t" x="485" y="1485" text-anchor="end">2500</text><text class="t" x="485" y="1517" text-anchor="end">2000</text><text class="t" x="485" y="1550" text-anchor="end">1500</text>
<text class="t" transform="translate(432,1463) rotate(-90)" text-anchor="middle">AUC</text>
<text class="t" x="510" y="1565" text-anchor="middle">WT</text><text class="t i" x="572" y="1565" text-anchor="middle">fob1Δ</text><text class="t" x="633" y="1565" text-anchor="middle">18</text><text class="t" x="694" y="1565" text-anchor="middle">19</text>
<path class="sd" d="M510 1390V1404M510 1397H572M572 1390V1404"/>
<text class="pv" x="540" y="1386" text-anchor="middle"><tspan class="i">p</tspan> &lt;0.0001</text>
<path class="sd" d="M493 1498H527M510 1492V1504M501 1492H519M501 1504H519 M555 1431H589M572 1420V1441M563 1420H581M563 1441H581 M616 1484H650M633 1475V1495M624 1475H642M624 1495H642 M677 1514H711M694 1510V1518M685 1510H703M685 1518H703"/>
<use href="#c" x="504" y="1496"/><use href="#c" x="517" y="1496"/><use href="#c" x="510" y="1504"/>
<use href="#s" x="575" y="1421"/><use href="#s" x="568" y="1432"/><use href="#s" x="575" y="1440"/>
<use href="#u" x="627" y="1478"/><use href="#u" x="639" y="1478"/><use href="#u" x="633" y="1494"/>
<use href="#v" x="686" y="1511"/><use href="#v" x="702" y="1511"/><use href="#v" x="694" y="1518"/>
</g>

<!-- AUC i -->
<g>
<path class="ax" d="M874 1382V1545H1110M869 1382H874M869 1414.6H874M869 1447.2H874M869 1479.8H874M869 1512.4H874M869 1545H874M898 1545v5M938 1545v5M978 1545v5M1018 1545v5M1059 1545v5"/>
<text class="t" x="867" y="1387" text-anchor="end">4000</text><text class="t" x="867" y="1420" text-anchor="end">3500</text><text class="t" x="867" y="1452" text-anchor="end">3000</text><text class="t" x="867" y="1485" text-anchor="end">2500</text><text class="t" x="867" y="1517" text-anchor="end">2000</text><text class="t" x="867" y="1550" text-anchor="end">1500</text>
<text class="t" transform="translate(823,1463) rotate(-90)" text-anchor="middle">AUC</text>
<text class="t" x="898" y="1565" text-anchor="middle">WT</text><text class="t i" x="938" y="1565" text-anchor="middle">fob1Δ</text><text class="t" x="978" y="1565" text-anchor="middle">20</text><text class="t" x="1018" y="1565" text-anchor="middle">21</text><text class="t" x="1059" y="1565" text-anchor="middle">22</text>
<path class="sd" d="M898 1390V1404M898 1397H938M938 1390V1404"/>
<text class="pv" x="924" y="1389" text-anchor="middle">P&lt;0.0001</text>
<path class="sd" d="M882 1497H914M898 1491V1503M889 1491H907M889 1503H907 M922 1431H954M938 1420V1441M929 1420H947M929 1441H947 M962 1496H994M978 1494V1498M969 1494H987M969 1498H987 M1002 1507H1034M1018 1498V1516M1009 1498H1027M1009 1516H1027 M1043 1482H1075M1059 1468V1496M1050 1468H1068M1050 1496H1068"/>
<use href="#c" x="893" y="1494"/><use href="#c" x="904" y="1494"/><use href="#c" x="898" y="1503"/>
<use href="#s" x="942" y="1421"/><use href="#s" x="934" y="1432"/><use href="#s" x="941" y="1440"/>
<use href="#u" x="972" y="1497"/><use href="#u" x="984" y="1497"/><use href="#u" x="978" y="1497"/>
<use href="#v" x="1011" y="1500"/><use href="#v" x="1025" y="1500"/><use href="#v" x="1018" y="1507"/><use href="#v" x="1013" y="1516"/>
<use href="#d" x="1062" y="1467"/><use href="#d" x="1052" y="1482"/><use href="#d" x="1060" y="1496"/>
</g>
</svg>
</body></html>
